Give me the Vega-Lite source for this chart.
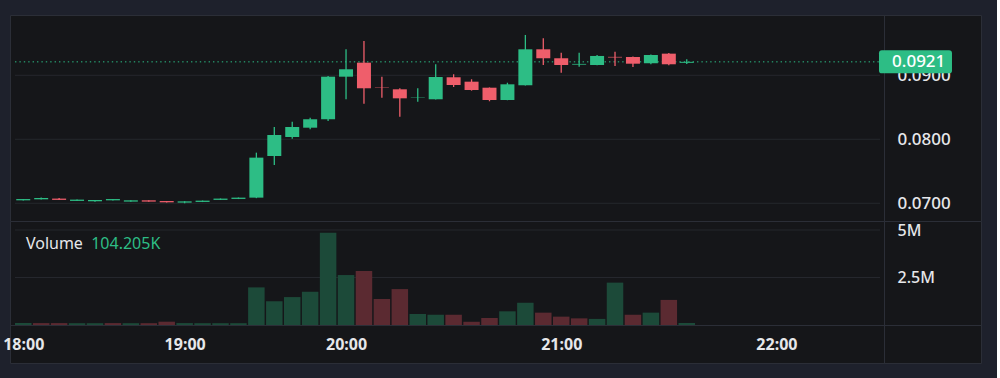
{
  "$schema": "https://vega.github.io/schema/vega-lite/v6.json",
  "background": "#1e212c",
  "padding": {"left": 2, "top": 14, "right": 15, "bottom": 16},
  "autosize": {"type": "pad"},
  "bounds": "flush",
  "spacing": 0,
  "datasets": {
    "candles": [
      {"i": 0, "o": 0.07046, "h": 0.07068, "l": 0.07044, "c": 0.07066, "v": 105000, "vup": 1},
      {"i": 1, "o": 0.07062, "h": 0.07090, "l": 0.07060, "c": 0.07082, "v": 100000, "vup": 0},
      {"i": 2, "o": 0.07073, "h": 0.07082, "l": 0.07050, "c": 0.07053, "v": 100000, "vup": 0},
      {"i": 3, "o": 0.07037, "h": 0.07059, "l": 0.07035, "c": 0.07057, "v": 95000, "vup": 1},
      {"i": 4, "o": 0.07031, "h": 0.07053, "l": 0.07022, "c": 0.07051, "v": 95000, "vup": 1},
      {"i": 5, "o": 0.07046, "h": 0.07068, "l": 0.07044, "c": 0.07066, "v": 100000, "vup": 0},
      {"i": 6, "o": 0.07026, "h": 0.07048, "l": 0.07024, "c": 0.07046, "v": 95000, "vup": 1},
      {"i": 7, "o": 0.07046, "h": 0.07048, "l": 0.07024, "c": 0.07026, "v": 95000, "vup": 0},
      {"i": 8, "o": 0.07035, "h": 0.07037, "l": 0.07013, "c": 0.07015, "v": 174000, "vup": 0},
      {"i": 9, "o": 0.07010, "h": 0.07032, "l": 0.07000, "c": 0.07030, "v": 100000, "vup": 1},
      {"i": 10, "o": 0.07021, "h": 0.07043, "l": 0.07019, "c": 0.07041, "v": 95000, "vup": 1},
      {"i": 11, "o": 0.07053, "h": 0.07075, "l": 0.07051, "c": 0.07073, "v": 95000, "vup": 1},
      {"i": 12, "o": 0.07068, "h": 0.07090, "l": 0.07066, "c": 0.07088, "v": 95000, "vup": 1},
      {"i": 13, "o": 0.07088, "h": 0.07791, "l": 0.07080, "c": 0.07713, "v": 1980000, "vup": 1},
      {"i": 14, "o": 0.07739, "h": 0.08192, "l": 0.07598, "c": 0.08067, "v": 1250000, "vup": 1},
      {"i": 15, "o": 0.08036, "h": 0.08275, "l": 0.08010, "c": 0.08192, "v": 1470000, "vup": 1},
      {"i": 16, "o": 0.08181, "h": 0.08338, "l": 0.08156, "c": 0.08313, "v": 1750000, "vup": 1},
      {"i": 17, "o": 0.08313, "h": 0.08990, "l": 0.08286, "c": 0.08978, "v": 4860000, "vup": 1},
      {"i": 18, "o": 0.08978, "h": 0.09406, "l": 0.08625, "c": 0.09094, "v": 2630000, "vup": 1},
      {"i": 19, "o": 0.09197, "h": 0.09536, "l": 0.08556, "c": 0.08797, "v": 2840000, "vup": 0},
      {"i": 20, "o": 0.08809, "h": 0.08978, "l": 0.08650, "c": 0.08803, "v": 1370000, "vup": 0},
      {"i": 21, "o": 0.08781, "h": 0.08797, "l": 0.08353, "c": 0.08640, "v": 1890000, "vup": 0},
      {"i": 22, "o": 0.08655, "h": 0.08797, "l": 0.08588, "c": 0.08661, "v": 580000, "vup": 1},
      {"i": 23, "o": 0.08625, "h": 0.09172, "l": 0.08620, "c": 0.08973, "v": 540000, "vup": 1},
      {"i": 24, "o": 0.08969, "h": 0.09016, "l": 0.08817, "c": 0.08848, "v": 540000, "vup": 0},
      {"i": 25, "o": 0.08900, "h": 0.08938, "l": 0.08760, "c": 0.08770, "v": 170000, "vup": 0},
      {"i": 26, "o": 0.08806, "h": 0.08810, "l": 0.08594, "c": 0.08614, "v": 370000, "vup": 0},
      {"i": 27, "o": 0.08614, "h": 0.08884, "l": 0.08610, "c": 0.08859, "v": 720000, "vup": 1},
      {"i": 28, "o": 0.08844, "h": 0.09630, "l": 0.08840, "c": 0.09406, "v": 1170000, "vup": 1},
      {"i": 29, "o": 0.09406, "h": 0.09578, "l": 0.09161, "c": 0.09266, "v": 650000, "vup": 0},
      {"i": 30, "o": 0.09266, "h": 0.09353, "l": 0.09040, "c": 0.09161, "v": 440000, "vup": 0},
      {"i": 31, "o": 0.09166, "h": 0.09353, "l": 0.09134, "c": 0.09178, "v": 350000, "vup": 0},
      {"i": 32, "o": 0.09161, "h": 0.09317, "l": 0.09155, "c": 0.09302, "v": 320000, "vup": 1},
      {"i": 33, "o": 0.09288, "h": 0.09369, "l": 0.09145, "c": 0.09278, "v": 2230000, "vup": 1},
      {"i": 34, "o": 0.09286, "h": 0.09295, "l": 0.09130, "c": 0.09181, "v": 540000, "vup": 0},
      {"i": 35, "o": 0.09188, "h": 0.09325, "l": 0.09172, "c": 0.09317, "v": 650000, "vup": 1},
      {"i": 36, "o": 0.09338, "h": 0.09348, "l": 0.09155, "c": 0.09172, "v": 1320000, "vup": 0},
      {"i": 37, "o": 0.09195, "h": 0.09250, "l": 0.09177, "c": 0.09210, "v": 104205, "vup": 1}
    ],
    "pgrid": [{"lv": 0.07}, {"lv": 0.08}, {"lv": 0.09}],
    "vgrid": [{"lv": 2500000}, {"lv": 5000000}],
    "legend": [{"name": "Volume", "val": "104.205K"}]
  },
  "config": {
    "view": {"fill": "#151619", "stroke": "#2b2e37", "strokeWidth": 1},
    "font": "Noto Sans",
    "axis": {
      "labelColor": "#e6e7ea",
      "labelFont": "Noto Sans",
      "domainColor": "#2b2e37",
      "domainWidth": 1,
      "ticks": false,
      "grid": false,
      "labelFlush": false,
      "labelOverlap": false
    }
  },
  "vconcat": [
    {
      "width": 971,
      "height": 206,
      "layer": [
        {
          "data": {"name": "pgrid"},
          "mark": {"type": "rule", "color": "#25272d", "strokeWidth": 1},
          "encoding": {
            "x": {"datum": -0.46, "type": "quantitative", "scale": {"domain": [-0.46, 53.13], "nice": false, "zero": false}, "axis": null},
            "x2": {"datum": 47.78},
            "y": {
              "field": "lv", "type": "quantitative",
              "scale": {"domain": [0.06723, 0.09942], "nice": false, "zero": false},
              "axis": {"orient": "right", "offset": -97, "values": [0.07, 0.08, 0.09], "format": ".4f", "title": null, "labelPadding": 13, "labelFontSize": 17, "labelFontWeight": 500, "labelAlign": "left", "labelBaseline": "middle"}
            }
          }
        },
        {
          "data": {"name": "candles"},
          "transform": [{"filter": "datum.i == 37"}],
          "mark": {"type": "rule", "color": "#2dbd85", "strokeWidth": 1, "strokeDash": [1.4, 3]},
          "encoding": {
            "x": {"datum": -0.46, "type": "quantitative", "axis": null},
            "x2": {"datum": 47.78},
            "y": {"field": "c", "type": "quantitative", "axis": {"orient": "right", "offset": -97, "values": [0.07, 0.08, 0.09], "format": ".4f", "title": null, "labelPadding": 13, "labelFontSize": 17, "labelFontWeight": 500, "labelAlign": "left", "labelBaseline": "middle"}}
          }
        },
        {
          "data": {"name": "candles"},
          "mark": {"type": "rule", "strokeWidth": 1.3},
          "encoding": {
            "x": {"field": "i", "type": "quantitative", "axis": null},
            "y": {"field": "l", "type": "quantitative", "axis": {"orient": "right", "offset": -97, "values": [0.07, 0.08, 0.09], "format": ".4f", "title": null, "labelPadding": 13, "labelFontSize": 17, "labelFontWeight": 500, "labelAlign": "left", "labelBaseline": "middle"}},
            "y2": {"field": "h"},
            "color": {"condition": {"test": "datum.c >= datum.o", "value": "#2dbd85"}, "value": "#ef5e6b"}
          }
        },
        {
          "data": {"name": "candles"},
          "mark": {"type": "bar", "width": 14},
          "encoding": {
            "x": {"field": "i", "type": "quantitative", "axis": null},
            "y": {"field": "o", "type": "quantitative", "axis": {"orient": "right", "offset": -97, "values": [0.07, 0.08, 0.09], "format": ".4f", "title": null, "labelPadding": 13, "labelFontSize": 17, "labelFontWeight": 500, "labelAlign": "left", "labelBaseline": "middle"}},
            "y2": {"field": "c"},
            "color": {"condition": {"test": "datum.c >= datum.o", "value": "#2dbd85"}, "value": "#ef5e6b"}
          }
        },
        {
          "data": {"name": "candles"},
          "transform": [{"filter": "datum.i == 37"}],
          "mark": {"type": "point", "filled": true, "opacity": 1, "color": "#2dbd85", "size": 5329,
                   "shape": "M0.08,-0.315 L1.92,-0.315 Q2,-0.315 2,-0.235 L2,0.235 Q2,0.315 1.92,0.315 L0.08,0.315 Q0,0.315 0,0.235 L0,-0.235 Q0,-0.315 0.08,-0.315 Z"},
          "encoding": {
            "x": {"datum": 47.72, "type": "quantitative", "axis": null},
            "y": {"field": "c", "type": "quantitative", "axis": {"orient": "right", "offset": -97, "values": [0.07, 0.08, 0.09], "format": ".4f", "title": null, "labelPadding": 13, "labelFontSize": 17, "labelFontWeight": 500, "labelAlign": "left", "labelBaseline": "middle"}}
          }
        },
        {
          "data": {"name": "candles"},
          "transform": [{"filter": "datum.i == 37"}],
          "mark": {"type": "text", "align": "left", "baseline": "middle", "dx": 12, "color": "#ffffff", "fontSize": 17, "fontWeight": 500},
          "encoding": {
            "x": {"datum": 47.78, "type": "quantitative", "axis": null},
            "y": {"field": "c", "type": "quantitative", "axis": {"orient": "right", "offset": -97, "values": [0.07, 0.08, 0.09], "format": ".4f", "title": null, "labelPadding": 13, "labelFontSize": 17, "labelFontWeight": 500, "labelAlign": "left", "labelBaseline": "middle"}},
            "text": {"field": "c", "type": "quantitative", "format": ".4f"}
          }
        }
      ]
    },
    {
      "width": 971,
      "height": 142,
      "layer": [
        {
          "data": {"name": "vgrid"},
          "mark": {"type": "rule", "color": "#25272d", "strokeWidth": 1},
          "encoding": {
            "x": {"datum": -0.46, "type": "quantitative", "scale": {"domain": [-0.46, 53.13], "nice": false, "zero": false},
                  "axis": {"orient": "bottom", "offset": -38, "values": [0, 9, 18, 30, 42], "title": null, "labelPadding": 19, "labelBaseline": "middle", "labelFontSize": 16, "labelFontWeight": "bold", "labelExpr": "datum.value == 0 ? '18:00' : datum.value == 9 ? '19:00' : datum.value == 18 ? '20:00' : datum.value == 30 ? '21:00' : '22:00'"}},
            "x2": {"datum": 47.78},
            "y": {
              "field": "lv", "type": "quantitative",
              "scale": {"domain": [-2000000, 5473684], "nice": false, "zero": false},
              "axis": {"orient": "right", "offset": -97, "values": [2500000, 5000000], "format": ".2~s", "title": null, "labelPadding": 13, "labelFontSize": 16, "labelFontWeight": 500, "labelAlign": "left", "labelBaseline": "middle"}
            }
          }
        },
        {
          "data": {"name": "candles"},
          "mark": {"type": "bar", "width": 16.5},
          "encoding": {
            "x": {"field": "i", "type": "quantitative",
                  "axis": {"orient": "bottom", "offset": -38, "values": [0, 9, 18, 30, 42], "title": null, "labelPadding": 19, "labelBaseline": "middle", "labelFontSize": 16, "labelFontWeight": "bold", "labelExpr": "datum.value == 0 ? '18:00' : datum.value == 9 ? '19:00' : datum.value == 18 ? '20:00' : datum.value == 30 ? '21:00' : '22:00'"}},
            "y": {"field": "v", "type": "quantitative",
                  "axis": {"orient": "right", "offset": -97, "values": [2500000, 5000000], "format": ".2~s", "title": null, "labelPadding": 13, "labelFontSize": 16, "labelFontWeight": 500, "labelAlign": "left", "labelBaseline": "middle"}},
            "color": {"condition": {"test": "datum.vup == 1", "value": "#1c4a39"}, "value": "#5b2a31"}
          }
        },
        {
          "data": {"name": "legend"},
          "mark": {"type": "text", "align": "left", "baseline": "middle", "color": "#e6e7ea", "fontSize": 16},
          "encoding": {
            "x": {"datum": 0.15, "type": "quantitative",
                  "axis": {"orient": "bottom", "offset": -38, "values": [0, 9, 18, 30, 42], "title": null, "labelPadding": 19, "labelBaseline": "middle", "labelFontSize": 16, "labelFontWeight": "bold", "labelExpr": "datum.value == 0 ? '18:00' : datum.value == 9 ? '19:00' : datum.value == 18 ? '20:00' : datum.value == 30 ? '21:00' : '22:00'"}},
            "y": {"datum": 4263000, "type": "quantitative",
                  "axis": {"orient": "right", "offset": -97, "values": [2500000, 5000000], "format": ".2~s", "title": null, "labelPadding": 13, "labelFontSize": 16, "labelFontWeight": 500, "labelAlign": "left", "labelBaseline": "middle"}},
            "text": {"field": "name"}
          }
        },
        {
          "data": {"name": "legend"},
          "mark": {"type": "text", "align": "left", "baseline": "middle", "color": "#2dbd85", "fontSize": 16},
          "encoding": {
            "x": {"datum": 3.79, "type": "quantitative",
                  "axis": {"orient": "bottom", "offset": -38, "values": [0, 9, 18, 30, 42], "title": null, "labelPadding": 19, "labelBaseline": "middle", "labelFontSize": 16, "labelFontWeight": "bold", "labelExpr": "datum.value == 0 ? '18:00' : datum.value == 9 ? '19:00' : datum.value == 18 ? '20:00' : datum.value == 30 ? '21:00' : '22:00'"}},
            "y": {"datum": 4263000, "type": "quantitative",
                  "axis": {"orient": "right", "offset": -97, "values": [2500000, 5000000], "format": ".2~s", "title": null, "labelPadding": 13, "labelFontSize": 16, "labelFontWeight": 500, "labelAlign": "left", "labelBaseline": "middle"}},
            "text": {"field": "val"}
          }
        }
      ]
    }
  ]
}
